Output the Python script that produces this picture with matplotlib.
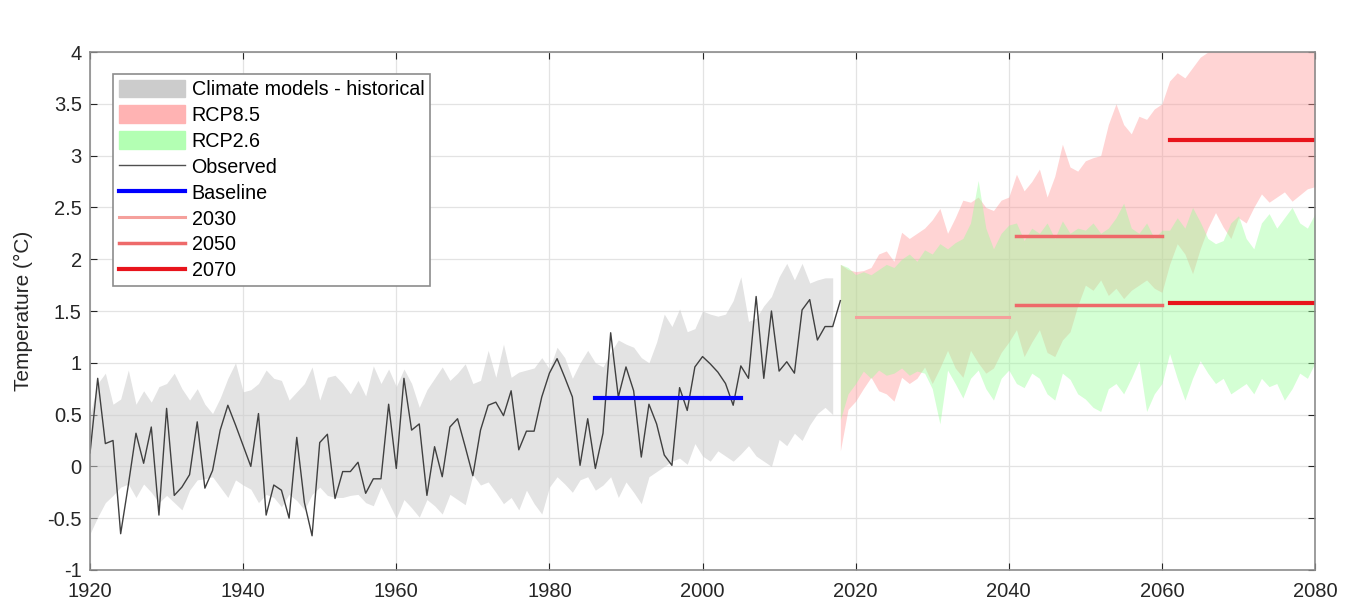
import numpy as np
import matplotlib
matplotlib.use('Agg')
import matplotlib.pyplot as plt
from matplotlib.patches import Patch
from matplotlib.lines import Line2D

plt.rcParams['font.family'] = ['Liberation Sans', 'DejaVu Sans']

# observed series 1920-2018
obs_years = np.arange(1920, 2019)
observed = [0.13, 0.85, 0.22, 0.25, -0.65, -0.18, 0.32, 0.03, 0.38, -0.47,
            0.56, -0.28, -0.20, -0.08, 0.43, -0.21, -0.04, 0.35, 0.59, 0.40,
            0.20, 0.00, 0.51, -0.47, -0.18, -0.23, -0.50, 0.28, -0.35, -0.67,
            0.23, 0.31, -0.31, -0.05, -0.05, 0.04, -0.26, -0.12, -0.12, 0.60,
            -0.02, 0.85, 0.35, 0.41, -0.28, 0.19, -0.10, 0.38, 0.46, 0.19,
            -0.09, 0.35, 0.59, 0.62, 0.49, 0.73, 0.16, 0.34, 0.34, 0.67,
            0.90, 1.04, 0.86, 0.67, 0.01, 0.46, -0.02, 0.32, 1.29, 0.67,
            0.96, 0.73, 0.09, 0.60, 0.41, 0.11, 0.01, 0.76, 0.54, 0.96,
            1.06, 0.99, 0.91, 0.80, 0.59, 0.97, 0.85, 1.64, 0.85, 1.50,
            0.92, 1.01, 0.90, 1.51, 1.61, 1.22, 1.35, 1.35, 1.60]

# climate models historical range 1920-2017
hist_years = np.arange(1920, 2018)
hist_upper = [0.50, 0.80, 0.90, 0.60, 0.65, 0.93, 0.60, 0.73, 0.62, 0.77,
              0.80, 0.90, 0.75, 0.64, 0.75, 0.60, 0.51, 0.66, 0.85, 1.00,
              0.72, 0.74, 0.80, 0.93, 0.85, 0.83, 0.64, 0.72, 0.80, 0.96,
              0.64, 0.86, 0.88, 0.80, 0.70, 0.83, 0.68, 0.97, 0.80, 0.94,
              0.77, 0.94, 0.80, 0.57, 0.74, 0.85, 0.96, 0.83, 0.90, 0.99,
              0.80, 0.83, 1.12, 0.86, 1.18, 0.86, 0.91, 0.93, 0.95, 1.05,
              0.94, 1.15, 1.05, 0.85, 1.00, 1.12, 1.00, 0.96, 1.10, 1.22,
              1.18, 1.15, 1.05, 1.00, 1.20, 1.47, 1.35, 1.52, 1.30, 1.33,
              1.50, 1.47, 1.45, 1.47, 1.60, 1.83, 1.40, 1.43, 1.55, 1.64,
              1.83, 1.96, 1.80, 1.96, 1.77, 1.80, 1.82, 1.82]
hist_lower = [-0.65, -0.49, -0.35, -0.28, -0.20, -0.17, -0.30, -0.17, -0.25, -0.35,
              -0.28, -0.35, -0.42, -0.23, -0.13, -0.12, -0.10, -0.20, -0.30, -0.13,
              -0.18, -0.22, -0.35, -0.27, -0.30, -0.39, -0.27, -0.33, -0.42, -0.27,
              -0.20, -0.28, -0.30, -0.30, -0.28, -0.27, -0.35, -0.38, -0.20, -0.35,
              -0.50, -0.32, -0.40, -0.49, -0.32, -0.38, -0.46, -0.27, -0.32, -0.37,
              -0.08, -0.18, -0.15, -0.25, -0.36, -0.30, -0.42, -0.23, -0.36, -0.46,
              -0.20, -0.10, -0.17, -0.25, -0.13, -0.10, -0.23, -0.18, -0.10, -0.30,
              -0.15, -0.25, -0.36, -0.10, -0.05, 0.00, 0.05, 0.08, 0.02, 0.22,
              0.10, 0.05, 0.15, 0.10, 0.05, 0.12, 0.20, 0.10, 0.05, 0.00,
              0.26, 0.20, 0.32, 0.25, 0.40, 0.51, 0.57, 0.50]

# scenario ranges 2018-2080
fut_years = np.arange(2018, 2081)
rcp85_upper = [1.95, 1.90, 1.88, 1.89, 1.92, 2.05, 2.08, 1.98, 2.26, 2.20,
               2.25, 2.30, 2.38, 2.49, 2.25, 2.40, 2.57, 2.55, 2.60, 2.50,
               2.47, 2.57, 2.60, 2.82, 2.66, 2.75, 2.87, 2.60, 2.80, 3.11,
               2.89, 2.85, 2.95, 2.98, 3.00, 3.30, 3.50, 3.30, 3.21, 3.38,
               3.35, 3.45, 3.50, 3.72, 3.80, 3.75, 3.85, 3.95, 4.00, 4.10,
               4.20, 4.30, 4.25, 4.35, 4.30, 4.40, 4.35, 4.45, 4.40, 4.50,
               4.45, 4.50, 4.50]
rcp85_lower = [0.15, 0.55, 0.63, 0.75, 0.86, 0.73, 0.70, 0.63, 0.86, 0.80,
               0.85, 0.96, 0.80, 0.95, 1.12, 0.95, 0.86, 1.12, 1.00, 0.90,
               0.95, 1.10, 1.20, 1.32, 1.06, 1.20, 1.32, 1.10, 1.06, 1.22,
               1.30, 1.55, 1.75, 1.70, 1.80, 1.65, 1.72, 1.62, 1.70, 1.75,
               1.80, 1.72, 1.68, 1.95, 2.15, 2.05, 1.86, 2.10, 2.30, 2.45,
               2.31, 2.20, 2.40, 2.35, 2.50, 2.63, 2.55, 2.60, 2.65, 2.56,
               2.62, 2.68, 2.70]
rcp26_upper = [1.95, 1.92, 1.85, 1.88, 1.85, 1.90, 1.95, 1.92, 2.00, 2.05,
               1.98, 2.09, 2.05, 2.15, 2.10, 2.16, 2.20, 2.35, 2.76, 2.30,
               2.10, 2.25, 2.33, 2.35, 2.18, 2.30, 2.25, 2.35, 2.20, 2.37,
               2.25, 2.30, 2.28, 2.35, 2.25, 2.30, 2.40, 2.54, 2.30, 2.25,
               2.35, 2.20, 2.28, 2.28, 2.40, 2.30, 2.50, 2.36, 2.20, 2.15,
               2.18, 2.35, 2.42, 2.20, 2.10, 2.35, 2.44, 2.30, 2.40, 2.50,
               2.35, 2.30, 2.44]
rcp26_lower = [0.45, 0.70, 0.80, 0.92, 0.85, 0.93, 0.88, 0.90, 0.95, 0.88,
               0.92, 0.90, 0.75, 0.41, 0.93, 0.80, 0.66, 0.85, 0.93, 0.75,
               0.64, 0.85, 0.93, 0.80, 0.76, 0.90, 0.85, 0.70, 0.64, 0.90,
               0.84, 0.70, 0.65, 0.57, 0.53, 0.75, 0.80, 0.70, 0.85, 1.02,
               0.53, 0.70, 0.80, 1.09, 0.85, 0.64, 0.85, 1.02, 0.90, 0.80,
               0.85, 0.70, 0.75, 0.80, 0.70, 0.85, 0.77, 0.80, 0.64, 0.75,
               0.90, 0.85, 1.00]

# period means
baseline_period = [1986, 2005]
baseline_value = 0.66
p2030_period = [2020, 2040]
p2030_value = 1.44
p2050_period = [2041, 2060]
p2050_values = [2.22, 1.555]
p2070_period = [2061, 2080]
p2070_values = [3.15, 1.575]

fig = plt.figure(figsize=(13.56, 6.05), dpi=100)
ax = fig.add_axes([0.0664, 0.0579, 0.9034, 0.8561])

ax.fill_between(hist_years, hist_lower, hist_upper, color=(0.8, 0.8, 0.8),
                alpha=0.55, linewidth=0)
ax.fill_between(fut_years, rcp85_lower, rcp85_upper, color=(1, 0.6, 0.6),
                alpha=0.42, linewidth=0)
ax.fill_between(fut_years, rcp26_lower, rcp26_upper, color=(0.6, 1, 0.6),
                alpha=0.42, linewidth=0)

ax.plot(obs_years, observed, color='#404040', lw=1)
ax.plot(baseline_period, [baseline_value] * 2, color='#0000ff', lw=3)
ax.plot(p2030_period, [p2030_value] * 2, color='#f5a09c', lw=2.2)
for v in p2050_values:
    ax.plot(p2050_period, [v, v], color='#ee6a6a', lw=2.5)
for v in p2070_values:
    ax.plot(p2070_period, [v, v], color='#e8141c', lw=3)

ax.set_xlim(1920, 2080)
ax.set_ylim(-1, 4)
ax.set_xticks(np.arange(1920, 2081, 20))
ax.set_yticks(np.arange(-1, 4.01, 0.5))
ax.set_yticklabels(['-1', '-0.5', '0', '0.5', '1', '1.5', '2', '2.5', '3', '3.5', '4'])
ax.grid(True, color='#e3e3e3', lw=0.9)
ax.set_axisbelow(True)
ax.tick_params(direction='in', top=True, right=True, labelsize=14.5,
               colors='#262626', length=5)
ax.tick_params(axis='x', pad=9)
ax.tick_params(axis='y', pad=6)
for s in ax.spines.values():
    s.set_color('#8c8c8c')
    s.set_linewidth(1.2)
ax.set_ylabel('Temperature (\u00b0C)', fontsize=15, color='#262626', labelpad=10)

handles = [Patch(color=(0.8, 0.8, 0.8)),
           Patch(color=(1, 0.7, 0.7)),
           Patch(color=(0.7, 1, 0.7)),
           Line2D([], [], color='#505050', lw=1),
           Line2D([], [], color='#0000ff', lw=3),
           Line2D([], [], color='#f5a09c', lw=2.2),
           Line2D([], [], color='#ee6a6a', lw=2.5),
           Line2D([], [], color='#e8141c', lw=3)]
labels = ['Climate models - historical', 'RCP8.5', 'RCP2.6', 'Observed',
          'Baseline', '2030', '2050', '2070']
leg = ax.legend(handles, labels, loc='upper left', bbox_to_anchor=(0.0188, 0.9575),
                borderaxespad=0, fontsize=14.2, fancybox=False, framealpha=1,
                edgecolor='#8c8c8c', handlelength=3.35, handleheight=1.0,
                labelspacing=0.32, handletextpad=0.35, borderpad=0.28)
leg.get_frame().set_linewidth(1.2)

fig.savefig('out.png', dpi=100)
